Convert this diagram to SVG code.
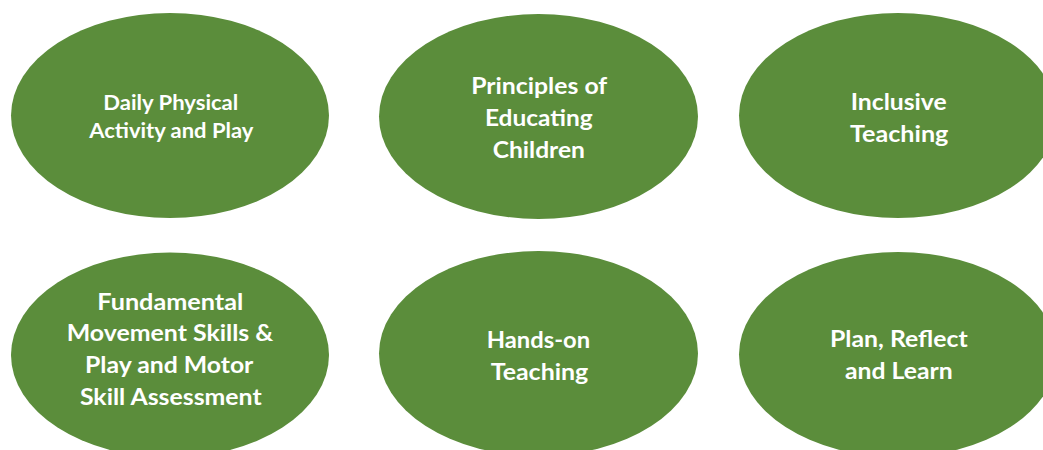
<svg xmlns="http://www.w3.org/2000/svg" width="1043" height="450" viewBox="0 0 1043 450">
<style>
.oval{fill:#5B8D3B;}
.t{font-family:Lato,"Open Sans","Liberation Sans",sans-serif;font-weight:700;fill:#FFFFFF;text-anchor:middle;font-size:23px;}
.s{font-size:21px;}
</style>
<rect width="1043" height="450" fill="#FFFFFF"/>
<g id="connectors"/>
<g id="node-daily">
<ellipse class="oval" cx="170" cy="115.5" rx="159" ry="102.5"/>
<text class="t s" x="170.8" y="110" textLength="135" lengthAdjust="spacingAndGlyphs">Daily Physical</text>
<text class="t s" x="171.3" y="138.3" textLength="164" lengthAdjust="spacingAndGlyphs">Activity and Play</text>
</g>
<g id="node-principles">
<ellipse class="oval" cx="538.5" cy="116.5" rx="159.5" ry="102.5"/>
<text class="t" x="539.2" y="94" textLength="136" lengthAdjust="spacingAndGlyphs">Principles of</text>
<text class="t" x="538.8" y="126" textLength="107.7" lengthAdjust="spacingAndGlyphs">Educating</text>
<text class="t" x="538.8" y="158" textLength="92.3" lengthAdjust="spacingAndGlyphs">Children</text>
</g>
<g id="node-inclusive">
<ellipse class="oval" cx="898" cy="115.5" rx="159" ry="102.5"/>
<text class="t" x="898.7" y="110" textLength="96" lengthAdjust="spacingAndGlyphs">Inclusive</text>
<text class="t" x="899.2" y="141.7" textLength="98.3" lengthAdjust="spacingAndGlyphs">Teaching</text>
</g>
<g id="node-fundamental">
<ellipse class="oval" cx="170" cy="355" rx="159" ry="102.5"/>
<text class="t" x="170.3" y="309.5" textLength="146" lengthAdjust="spacingAndGlyphs">Fundamental</text>
<text class="t" x="170" y="341.2" textLength="206.7" lengthAdjust="spacingAndGlyphs">Movement Skills &amp;</text>
<text class="t" x="169.2" y="373" textLength="168.3" lengthAdjust="spacingAndGlyphs">Play and Motor</text>
<text class="t" x="170.8" y="404.6" textLength="181.7" lengthAdjust="spacingAndGlyphs">Skill Assessment</text>
</g>
<g id="node-handson">
<ellipse class="oval" cx="538.5" cy="353.5" rx="159.5" ry="102.5"/>
<text class="t" x="538.4" y="348.3" textLength="103.3" lengthAdjust="spacingAndGlyphs">Hands-on</text>
<text class="t" x="539.5" y="380" textLength="97.6" lengthAdjust="spacingAndGlyphs">Teaching</text>
</g>
<g id="node-plan">
<ellipse class="oval" cx="898" cy="354.5" rx="159" ry="102.5"/>
<text class="t" x="898.9" y="347.3" textLength="137.7" lengthAdjust="spacingAndGlyphs">Plan, Reflect</text>
<text class="t" x="898.9" y="379.3" textLength="107.7" lengthAdjust="spacingAndGlyphs">and Learn</text>
</g>
</svg>
